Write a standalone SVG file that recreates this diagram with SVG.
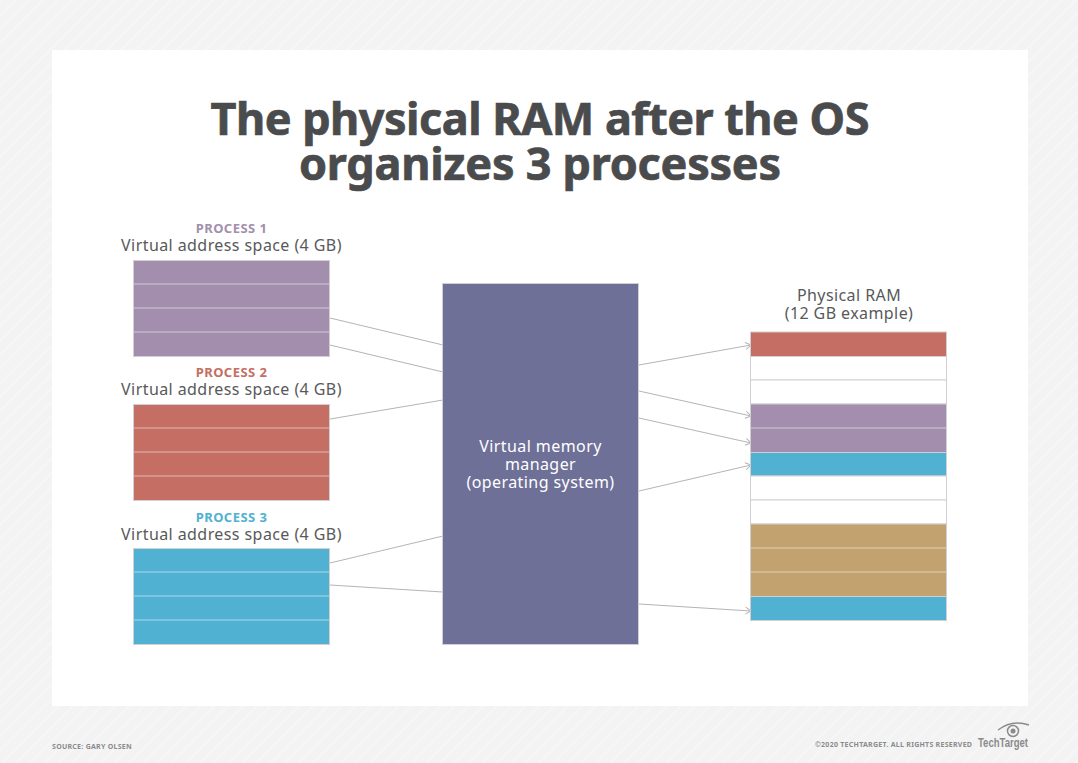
<svg xmlns="http://www.w3.org/2000/svg" width="1078" height="763" viewBox="0 0 1078 763">
<style>
text{font-family:"Noto Sans","Open Sans","Liberation Sans",sans-serif;text-anchor:middle;fill:#58595b}
.title{font-size:45px;font-weight:700;fill:#4a4b4d;stroke:#4a4b4d;stroke-width:.7px}
.lbl{font-size:16px;letter-spacing:.42px}
.proc{font-size:13px;font-weight:700;letter-spacing:.45px}
.foot{font-size:7px;font-weight:700;fill:#8a8b8d;text-anchor:start;letter-spacing:.27px}
.cell{stroke:#d0d0d2;stroke-width:1}
.sep{stroke:#fff;stroke-opacity:.35;stroke-width:1.5}
.w{fill:#fff}
.pu{fill:#a38fad}.re{fill:#c56e63}.bl{fill:#50b1d2}.br{fill:#c2a26e}
.conn{stroke:#b4b4b6;stroke-width:1;fill:none}
</style>
<defs>
<pattern id="st" width="10" height="10" patternUnits="userSpaceOnUse" patternTransform="rotate(45)">
<rect width="10" height="10" fill="#f3f3f3"/><rect width="1.500" height="10" fill="#f7f7f7"/>
</pattern>
<marker id="arr" markerWidth="8" markerHeight="8" refX="6.500" refY="4" orient="auto" markerUnits="userSpaceOnUse">
<path d="M1 .5L6.500 4L1 7.500" fill="none" stroke="#b4b4b6" stroke-width="1"/>
</marker>
</defs>
<rect width="1078" height="763" fill="url(#st)"/>
<rect x="52" y="50" width="976" height="656" fill="#fff"/>
<g id="title">
<text class="title" x="540" y="135" textLength="659" lengthAdjust="spacing">The physical RAM after the OS</text>
<text class="title" x="540" y="180" textLength="482" lengthAdjust="spacing">organizes 3 processes</text>
</g>
<g id="connectors">
<line class="conn" x1="330" y1="318" x2="443" y2="345"/>
<line class="conn" x1="330" y1="345" x2="443" y2="372"/>
<line class="conn" x1="330" y1="419" x2="443" y2="400"/>
<line class="conn" x1="330" y1="563" x2="443" y2="536"/>
<line class="conn" x1="330" y1="585" x2="443" y2="592"/>
<line class="conn" x1="639" y1="365" x2="751" y2="345" marker-end="url(#arr)"/>
<line class="conn" x1="639" y1="391" x2="751" y2="416" marker-end="url(#arr)"/>
<line class="conn" x1="639" y1="418" x2="751" y2="443" marker-end="url(#arr)"/>
<line class="conn" x1="639" y1="491" x2="751" y2="465" marker-end="url(#arr)"/>
<line class="conn" x1="639" y1="604" x2="751" y2="611" marker-end="url(#arr)"/>
</g>
<g id="process1">
<text class="proc" x="231.500" y="233" style="fill:#a38fad">PROCESS 1</text>
<text class="lbl" x="231.500" y="251">Virtual address space (4 GB)</text>
<rect class="cell pu" x="133.500" y="260.500" width="196" height="96"/>
<line class="sep" x1="134" x2="329" y1="284" y2="284"/><line class="sep" x1="134" x2="329" y1="308" y2="308"/><line class="sep" x1="134" x2="329" y1="332" y2="332"/>
</g>
<g id="process2">
<text class="proc" x="231.500" y="377" style="fill:#c56e63">PROCESS 2</text>
<text class="lbl" x="231.500" y="395">Virtual address space (4 GB)</text>
<rect class="cell re" x="133.500" y="404.500" width="196" height="96"/>
<line class="sep" x1="134" x2="329" y1="428" y2="428"/><line class="sep" x1="134" x2="329" y1="452" y2="452"/><line class="sep" x1="134" x2="329" y1="476" y2="476"/>
</g>
<g id="process3">
<text class="proc" x="231.500" y="522" style="fill:#50b1d2">PROCESS 3</text>
<text class="lbl" x="231.500" y="540">Virtual address space (4 GB)</text>
<rect class="cell bl" x="133.500" y="548.500" width="196" height="96"/>
<line class="sep" x1="134" x2="329" y1="572" y2="572"/><line class="sep" x1="134" x2="329" y1="596" y2="596"/><line class="sep" x1="134" x2="329" y1="620" y2="620"/>
</g>
<g id="vmm">
<rect x="442.500" y="283.500" width="196" height="361" fill="#6e7098" stroke="#d0d0d2"/>
<text class="lbl" x="540.500" y="452" style="fill:#fff">Virtual memory</text>
<text class="lbl" x="540.500" y="470" style="fill:#fff">manager</text>
<text class="lbl" x="540.500" y="488" style="fill:#fff">(operating system)</text>
</g>
<g id="ram">
<text class="lbl" x="849" y="301">Physical RAM</text>
<text class="lbl" x="849" y="319">(12 GB example)</text>
<rect class="cell re" x="750.500" y="332" width="196" height="24.500"/>
<rect class="cell w" x="750.500" y="356.500" width="196" height="23.500"/>
<rect class="cell w" x="750.500" y="380" width="196" height="24"/>
<rect class="cell pu" x="750.500" y="404" width="196" height="48.500"/>
<line class="sep" x1="751" x2="946" y1="428" y2="428"/>
<rect class="cell bl" x="750.500" y="452.500" width="196" height="23.500"/>
<rect class="cell w" x="750.500" y="476" width="196" height="24"/>
<rect class="cell w" x="750.500" y="500" width="196" height="24"/>
<rect class="cell br" x="750.500" y="524" width="196" height="72.500"/>
<line class="sep" x1="751" x2="946" y1="548" y2="548"/><line class="sep" x1="751" x2="946" y1="572" y2="572"/>
<rect class="cell bl" x="750.500" y="596.500" width="196" height="24"/>
</g>
<g id="footer">
<text class="foot" x="52" y="748.500">SOURCE: GARY OLSEN</text>
<text class="foot" x="815" y="746.500">©2020 TECHTARGET. ALL RIGHTS RESERVED</text>
<text x="1003" y="747" textLength="50" lengthAdjust="spacingAndGlyphs" style="font-size:13px;font-weight:700;fill:#8a8b8d;font-family:'Liberation Sans',sans-serif">TechTarget</text>
<path d="M998 730Q1012 719 1029 725" fill="none" stroke="#8a8b8d" stroke-width="1.500"/>
<circle cx="1013" cy="731" r="5.500" fill="none" stroke="#8a8b8d" stroke-width="1.500"/>
<circle cx="1013" cy="731" r="2.500" fill="#8a8b8d"/>
</g>
</svg>
